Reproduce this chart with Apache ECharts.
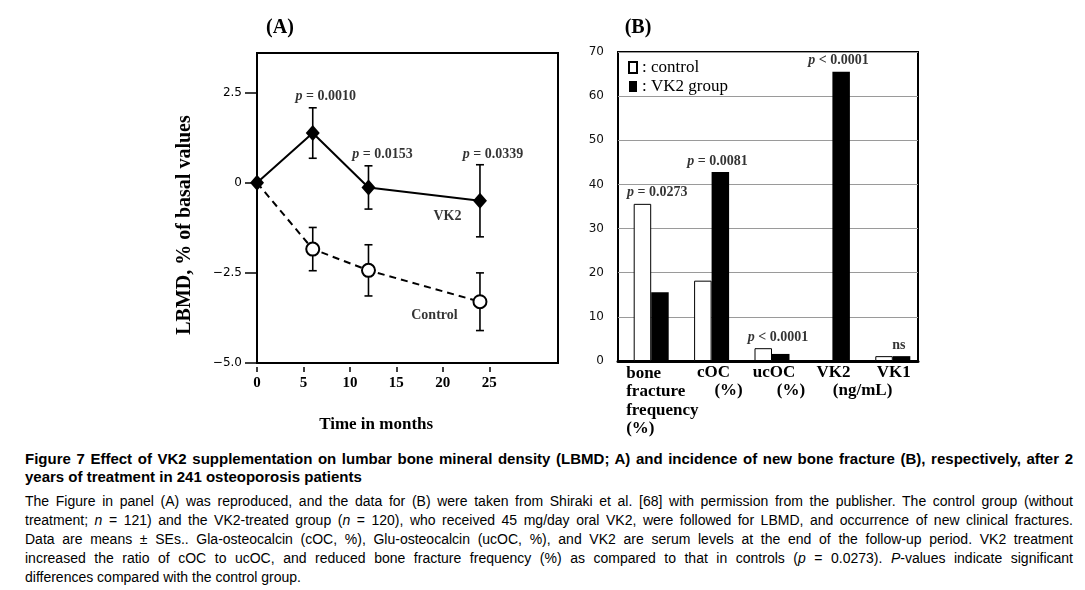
<!DOCTYPE html>
<html>
<head>
<meta charset="utf-8">
<script src="https://cdn.jsdelivr.net/npm/echarts@6/dist/echarts.min.js"></script>
<style>
html,body{margin:0;padding:0;background:#fff;width:1085px;height:590px;overflow:hidden;}
#chart{position:absolute;left:0;top:0;width:1085px;height:445px;}
#cap{position:absolute;left:25px;top:450px;width:1048px;font-family:"Liberation Sans",Arial,sans-serif;color:#000;}
.t{font-weight:bold;font-size:15px;line-height:18px;white-space:nowrap;}
.t.j{text-align:justify;text-align-last:justify;}
.b{font-size:14px;line-height:19px;white-space:nowrap;text-align:justify;text-align-last:justify;}
.b.last{text-align-last:left;}
#bodytxt{margin-top:6px;}
</style>
</head>
<body>
<div id="chart"></div>
<div id="cap">
  <div class="t j">Figure 7 Effect of VK2 supplementation on lumbar bone mineral density (LBMD; A) and incidence of new bone fracture (B), respectively, after 2</div>
  <div class="t">years of treatment in 241 osteoporosis patients</div>
  <div id="bodytxt">
    <div class="b">The Figure in panel (A) was reproduced, and the data for (B) were taken from Shiraki et al. [68] with permission from the publisher. The control group (without</div>
    <div class="b">treatment; <i>n</i> = 121) and the VK2-treated group (<i>n</i> = 120), who received 45 mg/day oral VK2, were followed for LBMD, and occurrence of new clinical fractures.</div>
    <div class="b">Data are means ± SEs.. Gla-osteocalcin (cOC, %), Glu-osteocalcin (ucOC, %), and VK2 are serum levels at the end of the follow-up period. VK2 treatment</div>
    <div class="b">increased the ratio of cOC to ucOC, and reduced bone fracture frequency (%) as compared to that in controls (<i>p</i> = 0.0273). <i>P</i>-values indicate significant</div>
    <div class="b last">differences compared with the control group.</div>
  </div>
</div>
<script>
// ---------- Panel A data ----------
const timeMonths = [0, 6, 12, 24];
const vk2Mean = [0, 1.38, -0.13, -0.5];
const vk2SE = [0, 0.7, 0.6, 1.0];
const ctrlMean = [0, -1.84, -2.43, -3.3];
const ctrlSE = [0, 0.6, 0.71, 0.8];
const xTicksA = [0, 5, 10, 15, 20, 25];
const yTicksA = [-5, -2.5, 0, 2.5];
const pTextA = ['p = 0.0010', 'p = 0.0153', 'p = 0.0339'];
const pAnchorA = [[7.4, 2.39], [13.5, 0.78], [25.4, 0.78]];
const groupTextA = ['VK2', 'Control'];
const groupAnchorA = [[20.5, -0.94], [19.1, -3.67]];

// ---------- Panel B data ----------
const categoriesB = ['bone fracture frequency', 'cOC', 'ucOC', 'VK2', 'VK1'];
const controlB = [35.6, 18.2, 2.9, 0.2, 1.1];
const vk2B = [15.6, 42.8, 1.6, 65.5, 1.1];
const pTextB = ['p = 0.0273', 'p = 0.0081', 'p < 0.0001', 'p < 0.0001', 'ns'];
const yTicksB = [0, 10, 20, 30, 40, 50, 60, 70];
const catLinesB = [['bone', 'fracture', 'frequency', '(%)'], ['cOC', '(%)'], ['ucOC', '(%)'], ['VK2'], ['VK1']];
const unitB = '(ng/mL)';

const SERIF = '"Liberation Serif","Times New Roman",serif';
const SANS = '"DejaVu Sans",Verdana,sans-serif';

function pRich(t) {
  if (t.charAt(0) === 'p') return '{i|p}{n|' + t.slice(1) + '}';
  return '{n|' + t + '}';
}
const richP = {
  i: {fontFamily: SERIF, fontStyle: 'italic', fontWeight: 'bold', fontSize: 14, color: '#000'},
  n: {fontFamily: SERIF, fontWeight: 'bold', fontSize: 14, color: '#000'}
};

function errRender(params, api) {
  const x = api.value(0), lo = api.value(1), hi = api.value(2);
  const a = api.coord([x, hi]), b = api.coord([x, lo]);
  const w = 4, st = {stroke: '#000', lineWidth: 1.6};
  return {type: 'group', children: [
    {type: 'line', shape: {x1: a[0], y1: a[1], x2: b[0], y2: b[1]}, style: st},
    {type: 'line', shape: {x1: a[0] - w, y1: a[1], x2: a[0] + w, y2: a[1]}, style: st},
    {type: 'line', shape: {x1: b[0] - w, y1: b[1], x2: b[0] + w, y2: b[1]}, style: st}
  ]};
}

const vk2Line = timeMonths.map((t, i) => [t, vk2Mean[i]]);
// the shared baseline point is drawn by the VK2 diamond only
const ctrlLine = timeMonths.map((t, i) => i === 0 ? {value: [t, ctrlMean[i]], symbol: 'none'} : [t, ctrlMean[i]]);
const vk2Err = timeMonths.map((t, i) => [t, vk2Mean[i] - vk2SE[i], vk2Mean[i] + vk2SE[i]]).filter((d, i) => vk2SE[i] > 0);
const ctrlErr = timeMonths.map((t, i) => [t, ctrlMean[i] - ctrlSE[i], ctrlMean[i] + ctrlSE[i]]).filter((d, i) => ctrlSE[i] > 0);

const chart = echarts.init(document.getElementById('chart'), null, {renderer: 'canvas'});

const option = {
  backgroundColor: '#fff',
  animation: false,
  grid: [
    {left: 257, top: 53, width: 301, height: 310, show: true, borderColor: '#000', borderWidth: 2, backgroundColor: 'transparent'},
    {left: 618, top: 52, width: 300, height: 309, show: true, borderColor: '#000', borderWidth: 2, backgroundColor: 'transparent'},
    {left: 621, top: 52, width: 302, height: 309}
  ],
  xAxis: [
    {type: 'value', gridIndex: 0, min: 0, max: 32.4, offset: 4,
     axisLine: {show: false, onZero: false},
     axisTick: {show: true, customValues: xTicksA, length: 5, lineStyle: {color: '#000', width: 1.5}},
     axisLabel: {customValues: xTicksA, fontFamily: SERIF, fontWeight: 'bold', fontSize: 15, color: '#000', margin: 9},
     splitLine: {show: false}},
    {type: 'value', gridIndex: 1, min: 0, max: 1,
     axisLine: {show: true, onZero: false, lineStyle: {color: '#000', width: 3}},
     axisTick: {show: false}, axisLabel: {show: false}, splitLine: {show: false}},
    {type: 'category', gridIndex: 2, data: categoriesB,
     axisLine: {show: false}, axisTick: {show: false}, axisLabel: {show: false}, splitLine: {show: false}}
  ],
  yAxis: [
    {type: 'value', gridIndex: 0, min: -5, max: 3.6,
     axisLine: {show: false, onZero: false},
     axisTick: {show: true, customValues: yTicksA, length: 12, lineStyle: {color: '#000', width: 1.5}},
     axisLabel: {customValues: yTicksA, fontFamily: SANS, fontSize: 12, color: '#000', margin: 15,
       formatter: v => v === 0 ? '0' : v.toFixed(1).replace('-', '\u2212')},
     splitLine: {show: false}},
    {type: 'value', gridIndex: 1, min: 0, max: 70,
     axisLine: {show: false}, axisTick: {show: false},
     axisLabel: {customValues: yTicksB, fontFamily: SANS, fontSize: 12, color: '#111', margin: 14},
     splitLine: {show: true, lineStyle: {color: '#9a9a9a', width: 1}}},
    {type: 'value', gridIndex: 2, min: 0, max: 70, show: false}
  ],
  legend: {
    data: ['control', 'VK2 group'], orient: 'vertical', left: 628, top: 59, padding: 0,
    icon: 'rect', itemWidth: 8, itemHeight: 11, itemGap: 2,
    textStyle: {fontFamily: 'Liberation Serif', fontSize: 17, color: '#000', padding: [0, 0, 0, 0],
      rich: {s: {fontFamily: 'Liberation Serif', fontSize: 17, color: '#000'}}},
    formatter: n => '{s|: ' + n + '}'
  },
  series: [
    {type: 'custom', name: 'VK2 SE', xAxisIndex: 0, yAxisIndex: 0, renderItem: errRender,
     encode: {x: 0, y: [1, 2]}, data: vk2Err, z: 1},
    {type: 'custom', name: 'Control SE', xAxisIndex: 0, yAxisIndex: 0, renderItem: errRender,
     encode: {x: 0, y: [1, 2]}, data: ctrlErr, z: 1},
    {type: 'line', name: 'Control', xAxisIndex: 0, yAxisIndex: 0, data: ctrlLine,
     lineStyle: {color: '#000', width: 2, type: [7, 5]},
     symbol: 'circle', symbolSize: 13, showAllSymbol: true,
     itemStyle: {color: '#fff', borderColor: '#000', borderWidth: 2}, z: 3},
    {type: 'line', name: 'VK2', xAxisIndex: 0, yAxisIndex: 0, data: vk2Line,
     lineStyle: {color: '#000', width: 2},
     symbol: 'diamond', symbolSize: [14, 16], showAllSymbol: true,
     itemStyle: {color: '#000', borderColor: '#000', borderWidth: 0}, z: 4},
    {type: 'scatter', name: 'pA', xAxisIndex: 0, yAxisIndex: 0, symbolSize: 0, silent: true,
     data: pAnchorA.map((p, i) => ({value: p, name: pTextA[i]})),
     label: {show: true, position: 'inside', formatter: d => pRich(d.name), rich: richP}},
    {type: 'scatter', name: 'groupsA', xAxisIndex: 0, yAxisIndex: 0, symbolSize: 0, silent: true,
     data: groupAnchorA.map((p, i) => ({value: p, name: groupTextA[i]})),
     label: {show: true, position: 'inside', formatter: d => d.name,
       fontFamily: SERIF, fontWeight: 'bold', fontSize: 14, color: '#000'}},
    {type: 'bar', name: 'control', xAxisIndex: 2, yAxisIndex: 2, data: controlB,
     barWidth: 17.5, barGap: '0%',
     itemStyle: {color: '#fff', borderColor: '#000', borderWidth: 1}},
    {type: 'bar', name: 'VK2 group', xAxisIndex: 2, yAxisIndex: 2, data: vk2B,
     barWidth: 17.5, barGap: '0%',
     itemStyle: {color: '#000', borderColor: '#000', borderWidth: 0}},
    {type: 'scatter', name: 'pB', xAxisIndex: 2, yAxisIndex: 2, symbolSize: 0, silent: true,
     data: categoriesB.map((c, i) => ({value: [i, Math.max(controlB[i], vk2B[i])], name: pTextB[i]})),
     label: {show: true, position: 'top', distance: 4, offset: [6, 0], formatter: d => pRich(d.name), rich: richP}}
  ]
};
chart.setOption(option);

// ---------- texts that are placed through the axes ----------
const gfx = [];
const boldSerif = s => 'bold ' + s + 'px ' + SERIF;
gfx.push({type: 'text', x: 280, y: 28, style: {text: '(A)', font: boldSerif(20), fill: '#000', align: 'center', verticalAlign: 'middle'}});
gfx.push({type: 'text', x: 638, y: 28, style: {text: '(B)', font: boldSerif(20), fill: '#000', align: 'center', verticalAlign: 'middle'}});
const xMidA = (chart.convertToPixel({xAxisIndex: 0}, xTicksA[0]) + chart.convertToPixel({xAxisIndex: 0}, xTicksA[xTicksA.length - 1])) / 2;
gfx.push({type: 'text', x: xMidA + 3, y: 425, style: {text: 'Time in months', font: boldSerif(17), fill: '#000', align: 'center', verticalAlign: 'middle'}});
gfx.push({type: 'text', x: 185, y: 225, rotation: Math.PI / 2,
  style: {text: 'LBMD, % of basal values', font: boldSerif(20), fill: '#000', align: 'center', verticalAlign: 'middle'}});

const catX = categoriesB.map((c, i) => chart.convertToPixel({xAxisIndex: 2}, c));
const labelTop = 364, lh = 18.5;
gfx.push({type: 'text', x: catX[0] - 25, y: labelTop,
  style: {text: catLinesB[0].join('\n'), font: boldSerif(17), lineHeight: lh, fill: '#000', align: 'left', verticalAlign: 'top'}});
const subShift = [0, 17, 19];
[1, 2].forEach(i => {
  gfx.push({type: 'text', x: catX[i] + 2, y: labelTop, style: {text: catLinesB[i][0], font: boldSerif(17), fill: '#000', align: 'center', verticalAlign: 'top'}});
  gfx.push({type: 'text', x: catX[i] + subShift[i], y: labelTop + lh, style: {text: catLinesB[i][1], font: boldSerif(17), fill: '#000', align: 'center', verticalAlign: 'top'}});
});
[3, 4].forEach(i => {
  gfx.push({type: 'text', x: catX[i] + 1, y: labelTop, style: {text: catLinesB[i][0], font: boldSerif(17), fill: '#000', align: 'center', verticalAlign: 'top'}});
});
gfx.push({type: 'text', x: (catX[3] + catX[4]) / 2, y: labelTop + lh,
  style: {text: unitB, font: boldSerif(17), fill: '#000', align: 'center', verticalAlign: 'top'}});

chart.setOption({graphic: gfx});
</script>
</body>
</html>
